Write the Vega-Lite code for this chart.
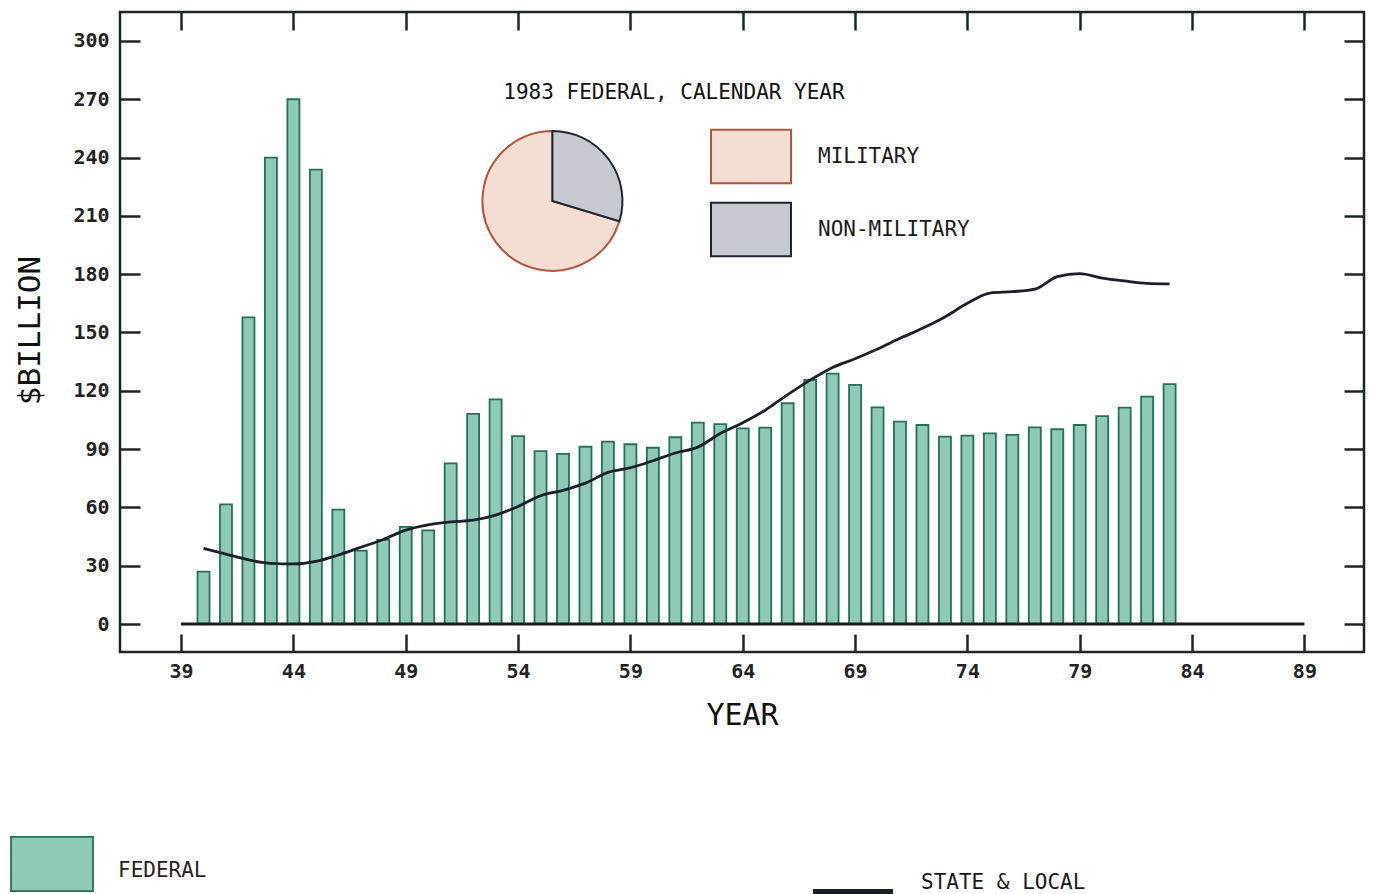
{
  "$schema": "https://vega.github.io/schema/vega-lite/v6.json",
  "width": 1244,
  "height": 640,
  "autosize": {"type": "none"},
  "padding": {"left": 120, "top": 12, "right": 11, "bottom": 242},
  "background": "white",
  "config": {
    "font": "DejaVu Sans Mono",
    "view": {"stroke": "#1d2622", "strokeWidth": 2.5},
    "legend": {"padding": 0, "titlePadding": 0, "labelLimit": 500}
  },
  "data": {
    "values": [
      {"year": 40, "federal": 27.0, "state_local": 38.9},
      {"year": 41, "federal": 61.6, "state_local": 36.0},
      {"year": 42, "federal": 157.8, "state_local": 33.0},
      {"year": 43, "federal": 240.0, "state_local": 31.2},
      {"year": 44, "federal": 270.0, "state_local": 30.9},
      {"year": 45, "federal": 233.8, "state_local": 32.2},
      {"year": 46, "federal": 58.9, "state_local": 35.5},
      {"year": 47, "federal": 37.8, "state_local": 39.5},
      {"year": 48, "federal": 43.3, "state_local": 43.5},
      {"year": 49, "federal": 50.0, "state_local": 48.3},
      {"year": 50, "federal": 48.2, "state_local": 51.0},
      {"year": 51, "federal": 82.7, "state_local": 52.5},
      {"year": 52, "federal": 108.1, "state_local": 53.4},
      {"year": 53, "federal": 115.6, "state_local": 56.0},
      {"year": 54, "federal": 96.7, "state_local": 60.5},
      {"year": 55, "federal": 89.0, "state_local": 66.0},
      {"year": 56, "federal": 87.5, "state_local": 68.8},
      {"year": 57, "federal": 91.2, "state_local": 72.5},
      {"year": 58, "federal": 93.8, "state_local": 78.0},
      {"year": 59, "federal": 92.5, "state_local": 80.4},
      {"year": 60, "federal": 90.7, "state_local": 84.0},
      {"year": 61, "federal": 96.1, "state_local": 88.0},
      {"year": 62, "federal": 103.6, "state_local": 91.0},
      {"year": 63, "federal": 102.8, "state_local": 98.0},
      {"year": 64, "federal": 100.7, "state_local": 103.5},
      {"year": 65, "federal": 101.0, "state_local": 110.0},
      {"year": 66, "federal": 113.6, "state_local": 118.0},
      {"year": 67, "federal": 125.6, "state_local": 125.5},
      {"year": 68, "federal": 128.8, "state_local": 132.0},
      {"year": 69, "federal": 123.0, "state_local": 136.5},
      {"year": 70, "federal": 111.5, "state_local": 141.5},
      {"year": 71, "federal": 104.1, "state_local": 147.0},
      {"year": 72, "federal": 102.4, "state_local": 152.2},
      {"year": 73, "federal": 96.4, "state_local": 158.0},
      {"year": 74, "federal": 96.9, "state_local": 165.0},
      {"year": 75, "federal": 98.1, "state_local": 170.3},
      {"year": 76, "federal": 97.3, "state_local": 171.0},
      {"year": 77, "federal": 101.2, "state_local": 172.3},
      {"year": 78, "federal": 100.2, "state_local": 178.7},
      {"year": 79, "federal": 102.4, "state_local": 180.3},
      {"year": 80, "federal": 107.0, "state_local": 178.0},
      {"year": 81, "federal": 111.3, "state_local": 176.5},
      {"year": 82, "federal": 117.0, "state_local": 175.3},
      {"year": 83, "federal": 123.4, "state_local": 175.0}
    ]
  },
  "layer": [
    {
      "mark": {"type": "bar", "size": 12, "stroke": "#25705b", "strokeWidth": 1.8},
      "encoding": {
        "x": {
          "field": "year", "type": "quantitative",
          "scale": {"domain": [36.505, 91.43], "nice": false, "zero": false},
          "axis": {
            "orient": "bottom",
            "values": [39, 44, 49, 54, 59, 64, 69, 74, 79, 84, 89],
            "domain": false, "grid": false,
            "tickSize": -18, "tickWidth": 2.5, "tickColor": "#1d2622",
            "labelFont": "DejaVu Sans Mono", "labelFontSize": 20, "labelFontWeight": "bold",
            "labelColor": "#222222", "labelPadding": 27, "labelBaseline": "top",
            "labelFlush": false, "labelOverlap": false,
            "title": "YEAR", "titleFont": "DejaVu Sans Mono", "titleFontSize": 30,
            "titleFontWeight": "normal", "titleColor": "#111111",
            "titleX": 622, "titleY": 63, "titleBaseline": "middle", "titleAlign": "center"
          }
        },
        "y": {
          "field": "federal", "type": "quantitative",
          "scale": {"domain": [-14.4, 314.9], "nice": false, "zero": false},
          "axis": {
            "orient": "left",
            "values": [0, 30, 60, 90, 120, 150, 180, 210, 240, 270, 300],
            "domain": false, "grid": false,
            "tickSize": -20, "tickWidth": 2.5, "tickColor": "#1d2622",
            "labelFont": "DejaVu Sans Mono", "labelFontSize": 20, "labelFontWeight": "bold",
            "labelColor": "#222222", "labelPadding": 31, "labelBaseline": "middle",
            "labelFlush": false, "labelOverlap": false,
            "title": "$BILLION", "titleFont": "DejaVu Sans Mono", "titleFontSize": 31,
            "titleFontWeight": "normal", "titleColor": "#111111",
            "titleX": -90, "titleY": 318, "titleAngle": 270,
            "titleBaseline": "middle", "titleAlign": "center"
          }
        },
        "y2": {"datum": 0},
        "fill": {
          "datum": "FEDERAL", "type": "nominal",
          "scale": {"range": ["#8fcab6"]},
          "legend": {
            "orient": "none", "legendX": -110, "legendY": 817, "title": null,
            "symbolType": "M-1,-0.83H1V0.49H-1Z", "symbolSize": 6724,
            "symbolStrokeColor": "#25705b", "symbolStrokeWidth": 1.8, "symbolOpacity": 1,
            "labelOffset": 24, "labelFont": "DejaVu Sans Mono", "labelFontSize": 21,
            "labelColor": "#2b1d22", "padding": 0
          }
        }
      }
    },
    {
      "data": {"values": [{}]},
      "mark": {"type": "rule", "color": "#1a1a1a", "strokeWidth": 3},
      "encoding": {
        "x": {"datum": 39, "type": "quantitative", "scale": {"domain": [36.505, 91.43], "nice": false, "zero": false}, "axis": null},
        "x2": {"datum": 89},
        "y": {"datum": 0, "type": "quantitative", "scale": {"domain": [-14.4, 314.9], "nice": false, "zero": false}, "axis": null}
      }
    },
    {
      "mark": {"type": "line", "interpolate": "monotone", "strokeWidth": 2.8},
      "encoding": {
        "x": {
          "field": "year", "type": "quantitative",
          "scale": {"domain": [36.505, 91.43], "nice": false, "zero": false},
          "axis": {
            "orient": "top", "labels": false, "title": null, "domain": false, "grid": false,
            "values": [39, 44, 49, 54, 59, 64, 69, 74, 79, 84, 89],
            "tickSize": -18, "tickWidth": 2.5, "tickColor": "#1d2622"
          }
        },
        "y": {
          "field": "state_local", "type": "quantitative",
          "scale": {"domain": [-14.4, 314.9], "nice": false, "zero": false},
          "axis": {
            "orient": "right", "labels": false, "title": null, "domain": false, "grid": false,
            "values": [0, 30, 60, 90, 120, 150, 180, 210, 240, 270, 300],
            "tickSize": -20, "tickWidth": 2.5, "tickColor": "#1d2622"
          }
        },
        "stroke": {
          "datum": "STATE & LOCAL", "type": "nominal",
          "scale": {"range": ["#1b1f2a"]},
          "legend": {
            "orient": "none", "legendX": 690, "legendY": 828, "title": null,
            "symbolType": "M-1,0.225H1", "symbolSize": 6400, "symbolStrokeWidth": 6,
            "labelOffset": 25, "labelFont": "DejaVu Sans Mono", "labelFontSize": 21,
            "labelColor": "#1a1a1a", "labelLimit": 500, "padding": 0
          }
        }
      }
    },
    {
      "data": {"values": [{"part": "MILITARY", "share": 70.3}, {"part": "NON-MILITARY", "share": 29.7}]},
      "mark": {"type": "arc", "outerRadius": 70, "strokeWidth": 2},
      "encoding": {
        "theta": {"field": "share", "type": "quantitative", "stack": true},
        "order": {"field": "part", "sort": "descending"},
        "x": {"datum": 55.53, "type": "quantitative", "scale": {"domain": [36.505, 91.43], "nice": false, "zero": false}, "axis": null},
        "y": {"datum": 217.7, "type": "quantitative", "scale": {"domain": [-14.4, 314.9], "nice": false, "zero": false}, "axis": null},
        "fill": {
          "field": "part", "type": "nominal",
          "scale": {"domain": ["MILITARY", "NON-MILITARY"], "range": ["#f4ddd2", "#c6cad0"]},
          "legend": {
            "orient": "none", "legendX": 590, "legendY": 103.5, "title": null,
            "symbolType": "M-1,-0.67H1V0.67H-1Z", "symbolSize": 6400, "symbolStrokeWidth": 2,
            "symbolOpacity": 1, "rowPadding": 1,
            "labelOffset": 26, "labelFont": "DejaVu Sans Mono", "labelFontSize": 21,
            "labelColor": "#1a1a1a", "padding": 0
          }
        },
        "stroke": {
          "field": "part", "type": "nominal",
          "scale": {"domain": ["MILITARY", "NON-MILITARY"], "range": ["#b0563e", "#1c2633"]},
          "legend": {
            "orient": "none", "legendX": 590, "legendY": 103.5, "title": null,
            "symbolType": "M-1,-0.67H1V0.67H-1Z", "symbolSize": 6400, "symbolStrokeWidth": 2,
            "symbolOpacity": 1, "rowPadding": 1,
            "labelOffset": 26, "labelFont": "DejaVu Sans Mono", "labelFontSize": 21,
            "labelColor": "#1a1a1a", "padding": 0
          }
        }
      }
    },
    {
      "data": {"values": [{"label": "1983 FEDERAL, CALENDAR YEAR"}]},
      "mark": {"type": "text", "font": "DejaVu Sans Mono", "fontSize": 21, "color": "#111111", "align": "center", "baseline": "middle"},
      "encoding": {
        "text": {"field": "label", "type": "nominal"},
        "x": {"datum": 60.94, "type": "quantitative", "scale": {"domain": [36.505, 91.43], "nice": false, "zero": false}, "axis": null},
        "y": {"datum": 273.0, "type": "quantitative", "scale": {"domain": [-14.4, 314.9], "nice": false, "zero": false}, "axis": null}
      }
    }
  ],
  "resolve": {
    "axis": {"x": "independent", "y": "independent"},
    "scale": {"fill": "independent", "stroke": "independent"},
    "legend": {"fill": "independent", "stroke": "independent"}
  }
}
